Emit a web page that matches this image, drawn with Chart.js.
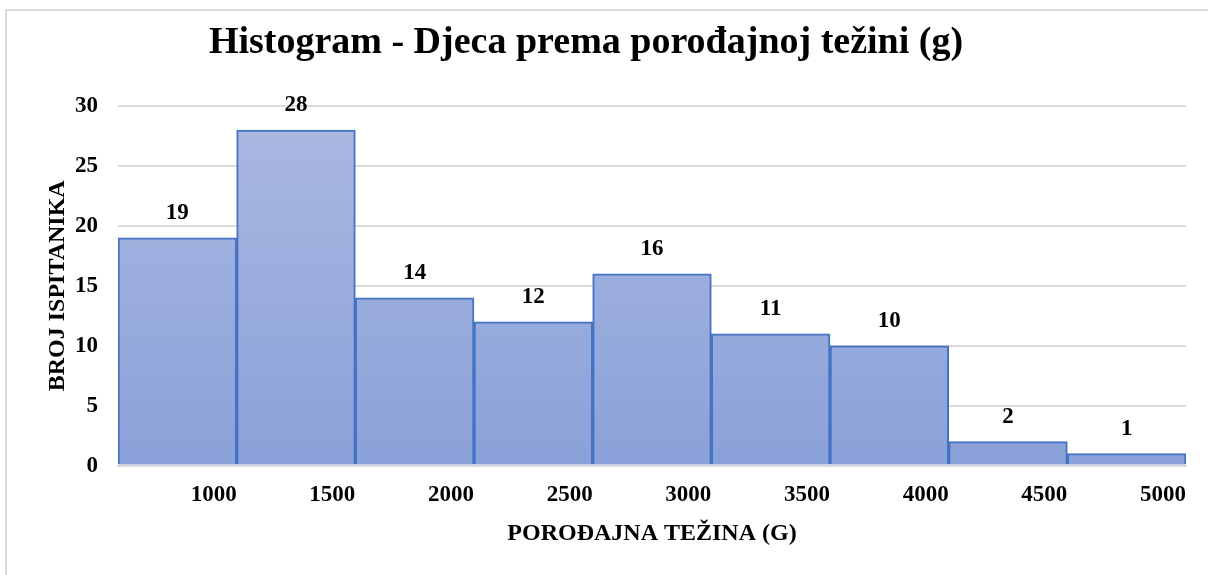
<!DOCTYPE html>
<html>
<head>
<meta charset="utf-8">
<script src="https://cdn.jsdelivr.net/npm/chart.js@4.4.1/dist/chart.umd.min.js"></script>
<style>
  html, body { margin: 0; padding: 0; background: #fff; }
  #wrap { position: absolute; left: 0; top: 0; width: 1208px; height: 575px; }
  #frame { position: absolute; left: 5px; top: 9px; width: 1220px; height: 600px; border: 2px solid #d9d9d9; box-sizing: border-box; pointer-events: none; }
</style>
</head>
<body>
<div id="wrap"><canvas id="c" width="1208" height="575"></canvas></div>
<div id="frame"></div>
<script>
const binCenters = [750, 1250, 1750, 2250, 2750, 3250, 3750, 4250, 4750];
const counts = [19, 28, 14, 12, 16, 11, 10, 2, 1];
const xTickLabels = [1000, 1500, 2000, 2500, 3000, 3500, 4000, 4500, 5000];
const yTicks = [0, 5, 10, 15, 20, 25, 30];
const titleText = 'Histogram - Djeca prema porođajnoj težini (g)';
const xTitle = 'POROĐAJNA TEŽINA (G)';
const yTitle = 'BROJ ISPITANIKA';

const serif = '"Liberation Serif", "Times New Roman", serif';

const valueLabels = {
  id: 'valueLabels',
  afterDatasetsDraw(chart) {
    const ctx = chart.ctx;
    const meta = chart.getDatasetMeta(0);
    ctx.save();
    ctx.font = 'bold 23px ' + serif;
    ctx.fillStyle = '#000';
    ctx.textAlign = 'center';
    ctx.textBaseline = 'middle';
    meta.data.forEach((bar, i) => {
      ctx.fillText(String(counts[i]), bar.x, bar.y - 25);
    });
    ctx.restore();
  }
};

const chartTitle = {
  id: 'chartTitle',
  afterDraw(chart) {
    const ctx = chart.ctx;
    ctx.save();
    ctx.font = 'bold 38px ' + serif;
    ctx.fillStyle = '#000';
    ctx.textAlign = 'center';
    ctx.textBaseline = 'alphabetic';
    ctx.fillText(titleText, 586, 53);
    ctx.restore();
  }
};

const ctx = document.getElementById('c').getContext('2d');
const grad = ctx.createLinearGradient(0, 106, 0, 465);
grad.addColorStop(0, '#abb9e1');
grad.addColorStop(1, '#8aa1d9');

new Chart(ctx, {
  type: 'bar',
  data: {
    datasets: [{
      data: binCenters.map((x, i) => ({ x: x, y: counts[i] })),
      backgroundColor: grad,
      borderColor: '#4472c4',
      borderWidth: 2,
      borderSkipped: 'bottom',
      barPercentage: 1.0,
      categoryPercentage: 1.0
    }]
  },
  options: {
    responsive: false,
    animation: false,
    layout: { padding: { left: 43, right: 22, top: 106, bottom: 27 } },
    plugins: {
      legend: { display: false },
      tooltip: { enabled: false },
      title: { display: false }
    },
    scales: {
      x: {
        type: 'linear',
        min: 500,
        max: 5000,
        offset: false,
        afterBuildTicks(scale) {
          scale.ticks = xTickLabels.map(v => ({ value: v }));
        },
        grid: { display: false, drawTicks: false, offset: false },
        border: { display: true, color: '#d9d9d9', width: 2 },
        ticks: {
          align: 'end',
          color: '#000',
          padding: 16,
          maxRotation: 0,
          autoSkip: false,
          font: { family: serif, size: 23, weight: 'bold' },
          callback: v => String(v)
        },
        title: {
          display: true,
          text: xTitle,
          color: '#000',
          font: { family: serif, size: 24, weight: 'bold' },
          padding: { top: -6, bottom: 0 }
        }
      },
      y: {
        min: 0,
        max: 30,
        afterBuildTicks(scale) {
          scale.ticks = yTicks.map(v => ({ value: v }));
        },
        afterFit(scale) { scale.width = 75; },
        grid: { color: '#d9d9d9', lineWidth: 2, drawTicks: false },
        border: { display: false },
        ticks: {
          color: '#000',
          padding: 20,
          font: { family: serif, size: 23, weight: 'bold' }
        },
        title: {
          display: true,
          text: yTitle,
          color: '#000',
          font: { family: serif, size: 24, weight: 'bold' },
          padding: { top: 0, bottom: 0 }
        }
      }
    }
  },
  plugins: [valueLabels, chartTitle]
});
</script>
</body>
</html>
